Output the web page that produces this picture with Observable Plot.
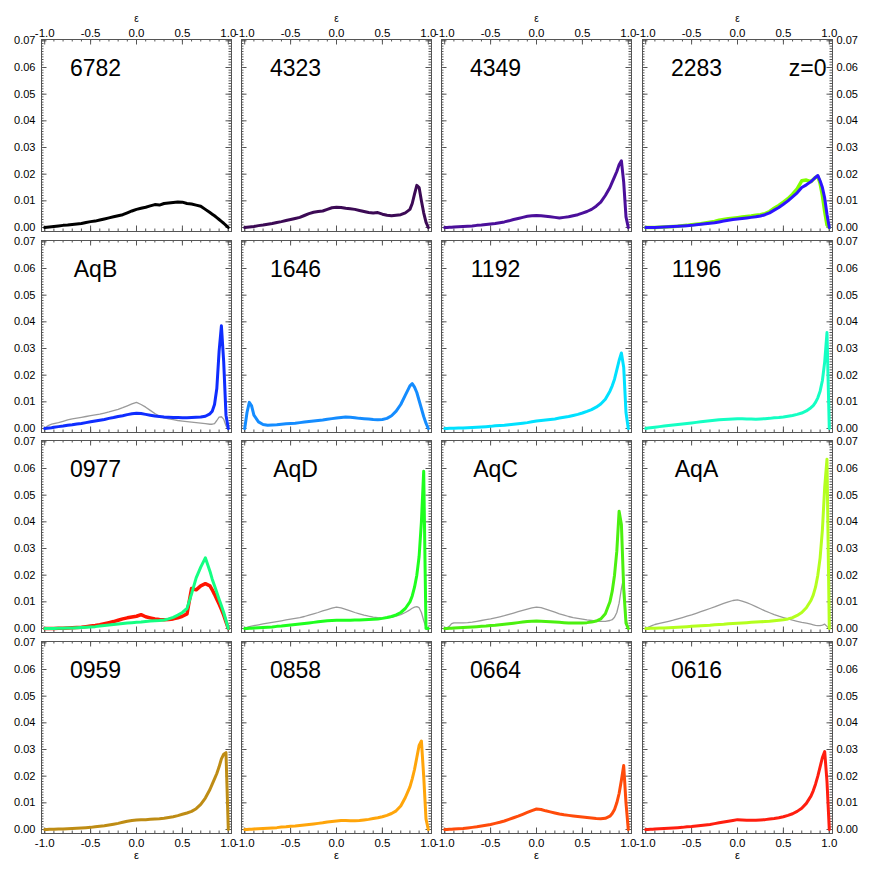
<!DOCTYPE html>
<html><head><meta charset="utf-8">
<script src="https://cdn.jsdelivr.net/npm/d3@7"></script>
<script src="https://cdn.jsdelivr.net/npm/@observablehq/plot@0.6"></script>
<style>
body{margin:0;background:#fff;}
#chart{position:relative;width:872px;height:872px;overflow:hidden;background:#fff;}
#chart svg{position:absolute;}
</style></head><body><div id="chart"></div><script>
// shared epsilon grid
const eps = [-1,-0.975,-0.95,-0.925,-0.9,
 -0.85,-0.8,-0.75,-0.7,-0.65,-0.6,-0.55,-0.5,-0.45,-0.4,-0.35,-0.3,-0.25,-0.2,-0.15,-0.1,-0.05,0,0.05,0.1,0.15,0.2,0.25,0.3,0.35,0.4,0.45,0.5,0.55,0.6,0.65,0.7,0.75,0.8,
 0.825,0.85,0.875,0.9,0.925,0.95,0.975,1];

const xTicks = [-1.0,-0.5,0.0,0.5,1.0];
const yTicks = [0.00,0.01,0.02,0.03,0.04,0.05,0.06,0.07];
const panelLabels = ["6782","4323","4349","2283","AqB","1646","1192","1196","0977","AqD","AqC","AqA","0959","0858","0664","0616"];

const s6782 = [0,.0001,.0002,.0003,.0004,
 .0006,.0008,.0009,.0011,.0013,.0015,.0019,.0022,.0024,.0028,.0032,.0036,.0040,.0044,.0048,.0055,.0062,.0068,.0072,.0076,.0081,.0086,.0084,.0090,.0092,.0094,.0096,.0095,.0090,.0088,.0084,.0080,.0068,.0056,
 .0050,.0044,.0037,.0030,.0023,.0016,.0008,0];
const s4323 = [0,.0001,.0002,.0003,.0004,
 .0007,.0009,.0012,.0015,.0019,.0022,.0026,.0030,.0034,.0038,.0045,.0052,.0057,.0060,.0062,.0068,.0074,.0076,.0075,.0072,.0070,.0068,.0064,.0060,.0056,.0054,.0056,.0050,.0046,.0044,.0046,.0048,.0055,.0068,
 .0090,.0125,.0158,.0150,.0100,.0055,.0020,0];
const s4349 = [0,0,.0001,.0001,.0002,
 .0003,.0004,.0005,.0006,.0008,.0009,.0011,.0013,.0015,.0018,.0021,.0025,.0030,.0034,.0038,.0042,.0044,.0045,.0044,.0042,.0040,.0038,.0036,.0038,.0040,.0044,.0048,.0054,.0060,.0068,.0080,.0095,.0120,.0150,
 .0170,.0190,.0210,.0235,.0250,.0170,.0040,0];
const s2283a = [0,0,0,0,0,
 .0001,.0002,.0003,.0004,.0005,.0007,.0008,.0010,.0012,.0014,.0017,.0020,.0023,.0027,.0030,.0033,.0035,.0037,.0039,.0041,.0043,.0046,.0048,.0052,.0060,.0072,.0083,.0095,.0108,.0125,.0145,.0175,.0178,.0172,
 .0180,.0188,.0192,.0165,.0120,.0060,.0010,0];
const s2283b = [0,0,0,0,0,
 .0001,.0002,.0003,.0004,.0005,.0006,.0007,.0008,.0010,.0012,.0014,.0016,.0018,.0021,.0024,.0027,.0030,.0032,.0034,.0036,.0038,.0040,.0043,.0048,.0055,.0065,.0075,.0087,.0100,.0115,.0130,.0150,.0160,.0172,
 .0180,.0188,.0195,.0175,.0150,.0110,.0050,0];
const sAqBgray = [0,.0008,.0013,.0016,.0018,
 .0022,.0027,.0032,.0036,.0039,.0042,.0045,.0048,.0051,.0054,.0058,.0062,.0067,.0072,.0078,.0085,.0092,.0098,.0090,.0080,.0068,.0056,.0046,.0040,.0036,.0033,.0030,.0028,.0026,.0024,.0022,.0020,.0018,.0016,
 .0016,.0018,.0030,.0043,.0044,.0035,.0010,0];
const sAqB = [0,.0001,.0002,.0003,.0005,
 .0007,.0009,.0012,.0014,.0017,.0019,.0022,.0025,.0028,.0031,.0034,.0038,.0041,.0045,.0048,.0052,.0055,.0057,.0056,.0053,.0050,.0047,.0045,.0043,.0042,.0041,.0041,.0040,.0040,.0041,.0042,.0043,.0046,.0055,
 .0065,.0090,.0150,.0290,.0385,.0250,.0050,0];
const s1646 = [0,.0060,.0098,.0085,.0050,
 .0025,.0015,.0012,.0013,.0014,.0016,.0018,.0019,.0020,.0022,.0024,.0026,.0028,.0030,.0032,.0035,.0037,.0039,.0041,.0043,.0042,.0040,.0038,.0037,.0036,.0034,.0033,.0034,.0038,.0048,.0065,.0090,.0125,.0160,
 .0168,.0155,.0135,.0105,.0075,.0045,.0020,0];
const s1192 = [0,0,.0001,.0001,.0001,
 .0002,.0002,.0003,.0004,.0005,.0006,.0007,.0008,.0010,.0011,.0012,.0014,.0016,.0018,.0020,.0022,.0025,.0028,.0030,.0032,.0034,.0036,.0039,.0042,.0045,.0049,.0053,.0058,.0064,.0071,.0080,.0092,.0110,.0140,
 .0160,.0185,.0220,.0255,.0283,.0230,.0060,0];
const s1196 = [0,.0002,.0003,.0004,.0005,
 .0007,.0009,.0011,.0013,.0015,.0017,.0019,.0021,.0023,.0025,.0027,.0029,.0031,.0033,.0034,.0035,.0036,.0037,.0037,.0036,.0036,.0035,.0036,.0037,.0038,.0040,.0041,.0043,.0046,.0049,.0053,.0058,.0066,.0078,
 .0086,.0098,.0115,.0140,.0180,.0250,.0360,0];
const s0977a = [0,0,0,0,0,
 .0001,.0001,.0002,.0003,.0004,.0005,.0007,.0009,.0011,.0014,.0018,.0022,.0026,.0031,.0036,.0040,.0043,.0046,.0052,.0044,.0040,.0036,.0034,.0033,.0034,.0036,.0040,.0046,.0055,.0150,.0145,.0160,.0168,.0160,
 .0145,.0128,.0110,.0092,.0072,.0050,.0025,0];
const s0977b = [0,0,0,0,0,
 .0001,.0001,.0002,.0002,.0003,.0004,.0005,.0006,.0007,.0009,.0011,.0013,.0015,.0017,.0019,.0021,.0022,.0023,.0024,.0026,.0028,.0029,.0030,.0032,.0036,.0042,.0050,.0060,.0075,.0130,.0190,.0230,.0265,.0215,
 .0185,.0160,.0135,.0110,.0085,.0060,.0030,0];
const sAqDgray = [0,.0004,.0007,.0009,.0011,
 .0014,.0017,.0020,.0023,.0026,.0029,.0032,.0035,.0038,.0041,.0045,.0050,.0055,.0060,.0066,.0071,.0076,.0080,.0077,.0072,.0066,.0060,.0055,.0050,.0046,.0043,.0041,.0040,.0040,.0042,.0046,.0052,.0060,.0070,
 .0076,.0080,.0082,.0078,.0060,.0030,.0005,0];
const sAqD = [0,0,.0001,.0001,.0002,
 .0003,.0004,.0005,.0006,.0008,.0009,.0011,.0013,.0015,.0017,.0019,.0021,.0023,.0025,.0027,.0029,.0030,.0031,.0031,.0031,.0031,.0032,.0032,.0033,.0034,.0035,.0036,.0038,.0041,.0045,.0051,.0060,.0075,.0100,
 .0122,.0155,.0200,.0270,.0400,.0590,0,0];
const sAqCgray = [0,.0003,.0008,.0018,.0021,
 .0021,.0021,.0022,.0024,.0027,.0030,.0033,.0036,.0040,.0044,.0048,.0053,.0058,.0063,.0068,.0073,.0077,.0080,.0078,.0073,.0067,.0061,.0055,.0050,.0045,.0041,.0038,.0035,.0032,.0030,.0028,.0027,.0027,.0030,
 .0033,.0042,.0060,.0095,.0150,.0192,.0040,0];
const sAqC = [0,0,.0001,.0001,.0002,
 .0003,.0004,.0005,.0006,.0007,.0008,.0009,.0011,.0012,.0014,.0016,.0018,.0020,.0022,.0024,.0026,.0027,.0028,.0027,.0026,.0025,.0024,.0023,.0022,.0021,.0021,.0021,.0021,.0022,.0024,.0028,.0036,.0055,.0100,
 .0140,.0200,.0290,.0440,.0390,.0150,.0020,0];
const sAqAgray = [0,.0004,.0008,.0012,.0015,
 .0019,.0023,.0027,.0031,.0036,.0041,.0046,.0051,.0057,.0063,.0069,.0075,.0081,.0088,.0094,.0100,.0105,.0107,.0103,.0097,.0090,.0082,.0074,.0066,.0059,.0052,.0046,.0041,.0036,.0031,.0027,.0023,.0020,.0016,
 .0014,.0012,.0011,.0011,.0013,.0016,.0008,0];
const sAqA = [0,0,.0001,.0001,.0001,
 .0002,.0002,.0003,.0004,.0005,.0006,.0007,.0008,.0009,.0010,.0011,.0012,.0014,.0015,.0016,.0018,.0019,.0020,.0021,.0022,.0023,.0024,.0025,.0026,.0027,.0029,.0031,.0033,.0036,.0041,.0049,.0060,.0078,.0105,
 .0125,.0155,.0200,.0265,.0370,.0530,.0635,0];
const s0959 = [0,0,.0001,.0001,.0001,
 .0002,.0002,.0003,.0004,.0005,.0006,.0007,.0008,.0010,.0012,.0014,.0017,.0020,.0023,.0027,.0031,.0034,.0036,.0037,.0037,.0038,.0039,.0040,.0042,.0045,.0048,.0052,.0057,.0062,.0068,.0078,.0094,.0118,.0150,
 .0170,.0190,.0210,.0235,.0265,.0282,.0288,0];
const s0858 = [0,0,.0001,.0001,.0002,
 .0003,.0004,.0005,.0006,.0007,.0009,.0010,.0012,.0013,.0015,.0017,.0019,.0021,.0023,.0025,.0028,.0030,.0032,.0034,.0034,.0033,.0033,.0034,.0036,.0038,.0041,.0044,.0048,.0053,.0060,.0070,.0088,.0120,.0160,
 .0190,.0225,.0270,.0315,.0332,.0200,.0040,0];
const s0664 = [0,0,.0001,.0001,.0002,
 .0003,.0004,.0006,.0008,.0010,.0013,.0016,.0019,.0023,.0027,.0032,.0038,.0044,.0050,.0057,.0064,.0071,.0077,.0075,.0070,.0066,.0062,.0058,.0055,.0053,.0051,.0049,.0047,.0045,.0043,.0041,.0040,.0042,.0050,
 .0060,.0075,.0100,.0135,.0185,.0240,.0100,0];
const s0616 = [0,0,.0001,.0001,.0002,
 .0003,.0004,.0005,.0006,.0007,.0008,.0010,.0011,.0013,.0015,.0017,.0019,.0022,.0025,.0028,.0031,.0034,.0037,.0036,.0035,.0035,.0035,.0036,.0037,.0039,.0041,.0044,.0048,.0053,.0059,.0068,.0080,.0098,.0125,
 .0145,.0170,.0200,.0235,.0270,.0292,.0180,0];

// styling
const GRAY = "#9a9a9a";
const panelSeries = [
  [[s6782,"#000000",3]],
  [[s4323,"#3c0a55",3]],
  [[s4349,"#4b0f9a",3]],
  [[s2283a,"#80ff00",3.5],[s2283b,"#2d14ff",3]],
  [[sAqBgray,GRAY,1.3],[sAqB,"#0f2dff",3]],
  [[s1646,"#148cff",3]],
  [[s1192,"#00e1ff",3]],
  [[s1196,"#14ffc3",3]],
  [[s0977a,"#ff1400",3.5],[s0977b,"#14ff82",3]],
  [[sAqDgray,GRAY,1.3],[sAqD,"#1eff1e",3]],
  [[sAqCgray,GRAY,1.3],[sAqC,"#4bf00f",3]],
  [[sAqAgray,GRAY,1.3],[sAqA,"#b4ff1e",3]],
  [[s0959,"#be8c14",3]],
  [[s0858,"#ffa50a",3]],
  [[s0664,"#ff4b0a",3]],
  [[s0616,"#ff1e0f",3]]
];

const FRAME = "#555";
const FONT = "'Liberation Sans', Arial, Helvetica, sans-serif";
const M = 46, FW = 190, FH = 192;
const colX = [41, 241, 441, 642];
const rowY = [39, 239.5, 440, 641];
const xMinor = d3.range(-10, 11).map(k => k / 10);
const yMinor = d3.range(0, 71).map(k => k / 1000);
const chart = document.getElementById("chart");
const fmtX = d => d.toFixed(1);
const fmtY = d => d.toFixed(2);

panelLabels.forEach((label, i) => {
  const r = Math.floor(i / 4), c = i % 4;
  const marks = [
    Plot.tickX(xMinor, {x: d => d, insetBottom: FH - 2.5, stroke: FRAME}),
    Plot.tickX(xMinor, {x: d => d, insetTop: FH - 2.5, stroke: FRAME}),
    Plot.tickX(xTicks, {x: d => d, insetBottom: FH - 5.5, stroke: FRAME}),
    Plot.tickX(xTicks, {x: d => d, insetTop: FH - 5.5, stroke: FRAME}),
    Plot.tickY(yMinor, {y: d => d, insetRight: FW - 2.5, stroke: FRAME}),
    Plot.tickY(yMinor, {y: d => d, insetLeft: FW - 2.5, stroke: FRAME}),
    Plot.tickY(yTicks, {y: d => d, insetRight: FW - 5.5, stroke: FRAME}),
    Plot.tickY(yTicks, {y: d => d, insetLeft: FW - 5.5, stroke: FRAME}),
    ...panelSeries[i].map(([vals, color, w]) =>
      Plot.line(eps, {x: d => d, y: (d, k) => vals[k], stroke: color, strokeWidth: w, strokeLinejoin: "round", strokeLinecap: "round"})),
    Plot.frame({stroke: FRAME, strokeWidth: 1}),
    Plot.text([label], {frameAnchor: "top-left", dx: 54, dy: 20, text: d => d, textAnchor: "middle", fontSize: 23, fill: "#000"})
  ];
  if (i === 3) marks.push(Plot.text(["z=0"], {frameAnchor: "top-right", dx: -6, dy: 20, text: d => d, textAnchor: "end", fontSize: 23, fill: "#000"}));
  if (r === 0) {
    marks.push(Plot.axisX({anchor: "top", ticks: xTicks, tickFormat: fmtX, tickSize: 0, tickPadding: 3, fontSize: 11.5, label: null, fill: "#000"}));
    marks.push(Plot.text(["ε"], {frameAnchor: "top", dy: -25, text: d => d, fontSize: 10, fill: "#000"}));
  }
  if (r === 3) {
    marks.push(Plot.axisX({anchor: "bottom", ticks: xTicks, tickFormat: fmtX, tickSize: 0, tickPadding: 5, fontSize: 11.5, label: null, fill: "#000"}));
    marks.push(Plot.text(["ε"], {frameAnchor: "bottom", dy: 25, text: d => d, fontSize: 11, fill: "#000"}));
  }
  if (c === 0) marks.push(Plot.axisY({anchor: "left", ticks: yTicks, tickFormat: fmtY, tickSize: 0, tickPadding: 6, fontSize: 11, label: null, fill: "#000"}));
  if (c === 3) marks.push(Plot.axisY({anchor: "right", ticks: yTicks, tickFormat: fmtY, tickSize: 0, tickPadding: 4, fontSize: 11, label: null, fill: "#000"}));

  const svg = Plot.plot({
    width: FW + 2 * M, height: FH + 2 * M,
    marginLeft: M, marginRight: M, marginTop: M, marginBottom: M,
    style: {background: "none", overflow: "visible", fontFamily: FONT, fontSize: "11px", color: "#000"},
    x: {domain: [-1.035, 1.035], axis: null},
    y: {domain: [-0.0015, 0.0705], axis: null},
    marks
  });
  svg.style.left = (colX[c] - M) + "px";
  svg.style.top = (rowY[r] - M) + "px";
  chart.appendChild(svg);
});
</script></body></html>
